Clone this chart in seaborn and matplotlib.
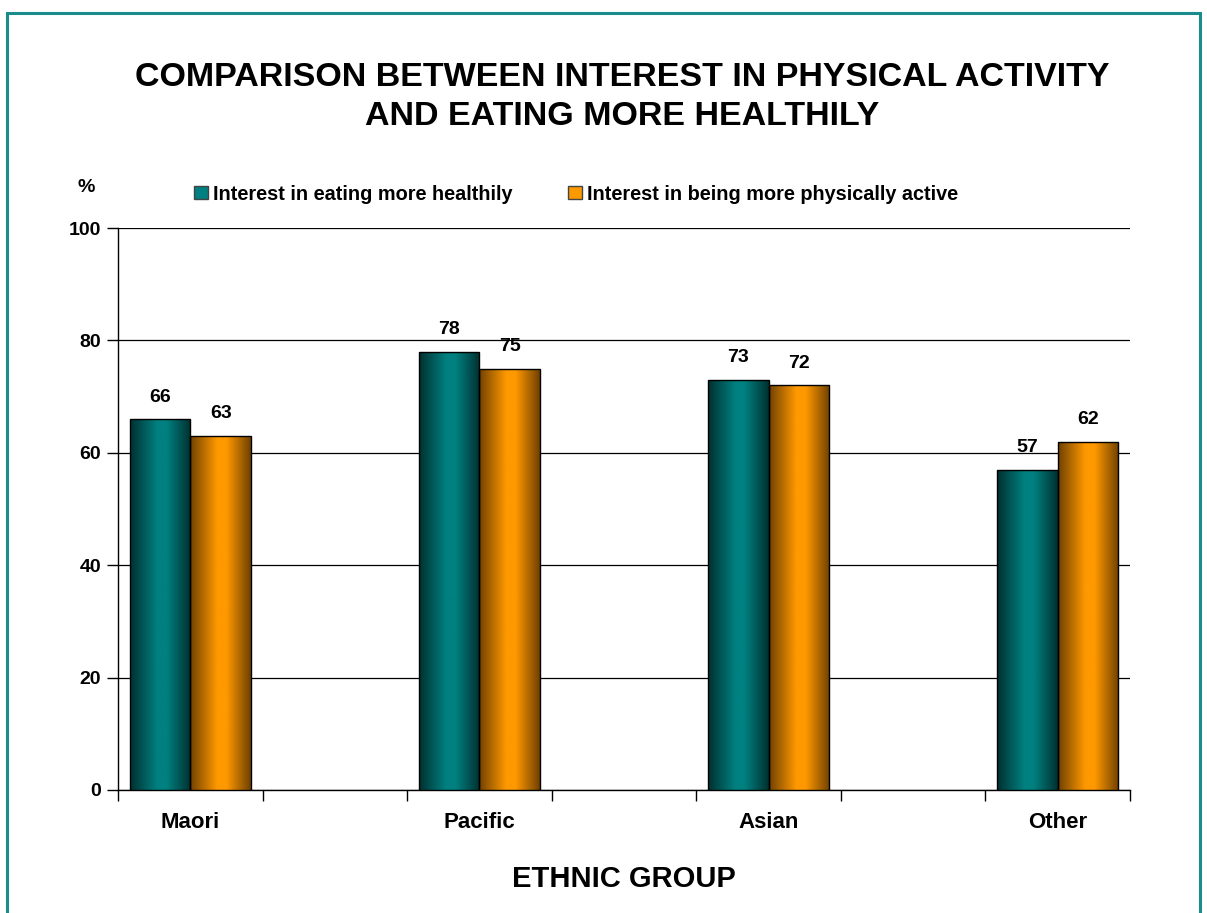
import numpy as np
import pandas as pd
import matplotlib.pyplot as plt
import matplotlib
from matplotlib.colors import LinearSegmentedColormap
from matplotlib.patches import Rectangle, Patch
import seaborn as sns

groups = ['Maori', 'Pacific', 'Asian', 'Other']
series = ['Interest in eating more healthily', 'Interest in being more physically active']
eating = [66, 78, 73, 57]
active = [63, 75, 72, 62]
yticks = [0, 20, 40, 60, 80, 100]

df = pd.DataFrame({
    'group': groups * 2,
    'series': [series[0]] * 4 + [series[1]] * 4,
    'value': eating + active,
})

sns.set_style('white')
plt.rcParams['font.family'] = ['Liberation Sans', 'DejaVu Sans']
plt.rcParams['font.weight'] = 'bold'
plt.rcParams['text.color'] = 'black'
plt.rcParams['xtick.color'] = 'black'
plt.rcParams['ytick.color'] = 'black'
plt.rcParams['axes.labelcolor'] = 'black'

colors = ['#008080', '#FF9900']
darks = ['#003030', '#704000']

fig = plt.figure(figsize=(12.07, 9.13), dpi=100)
ax = fig.add_axes([118 / 1207, 1 - 790 / 913, (1130 - 118) / 1207, (790 - 228) / 913])

sns.barplot(data=df, x='group', y='value', hue='series', palette=colors,
            width=0.42, gap=0, edgecolor='black', linewidth=1.0, ax=ax,
            legend=False, zorder=3)

# gradient fill, dark edges and bright middle like the original
for i, cont in enumerate(ax.containers):
    cmap = LinearSegmentedColormap.from_list(
        'g%d' % i, [(0, darks[i]), (0.45, colors[i]), (0.6, colors[i]), (1, darks[i])])
    grad = np.linspace(0, 1, 256).reshape(1, -1)
    for bar in cont:
        x0, w, h = bar.get_x(), bar.get_width(), bar.get_height()
        im = ax.imshow(grad, cmap=cmap, aspect='auto', extent=[x0, x0 + w, 0, h],
                       zorder=3.5)
        im.set_clip_path(bar)
        bar.set_facecolor('none')
        bar.set_zorder(4)
        ax.text(x0 + w / 2, h + 2.4, '%d' % h, ha='center', va='bottom',
                fontsize=14, fontweight='bold')

ax.set_xlim(-0.25, 3.25)
ax.set_ylim(0, 100)
ax.set_yticks(yticks)
ax.set_yticklabels([str(v) for v in yticks], fontsize=14, fontweight='bold')
ax.set_xticks(range(len(groups)))
ax.set_xticklabels(groups, fontsize=16, fontweight='bold')
ax.set_xticks(np.arange(-0.25, 3.3, 0.5), minor=True)
ax.tick_params(axis='x', which='major', bottom=True, length=0, pad=16)
ax.tick_params(axis='x', which='minor', bottom=True, length=8, width=1, direction='out', color='black')
ax.tick_params(axis='y', left=True, length=8, width=1, direction='out', color='black', pad=4)
ax.yaxis.grid(True, color='black', linewidth=0.9, zorder=0)
ax.set_axisbelow(True)
for s in ['top', 'right']:
    ax.spines[s].set_visible(False)
for s in ['left', 'bottom']:
    ax.spines[s].set_color('black')
    ax.spines[s].set_linewidth(1.0)
ax.set_xlabel('ETHNIC GROUP', fontsize=21, fontweight='bold', labelpad=23)
ax.set_ylabel('')

fig.text(86 / 1207, 1 - 187 / 913, '%', fontsize=14, fontweight='bold', ha='center', va='center')

fig.text(622 / 1207, 1 - 97 / 913,
         'COMPARISON BETWEEN INTEREST IN PHYSICAL ACTIVITY\nAND EATING MORE HEALTHILY',
         fontsize=24.5, fontweight='bold', ha='center', va='center', linespacing=1.36)

handles = [Patch(facecolor=colors[0], edgecolor='#444444'),
           Patch(facecolor=colors[1], edgecolor='#444444')]
fig.legend(handles, series, loc='center', bbox_to_anchor=(576 / 1207, 1 - 194 / 913),
           ncol=2, frameon=False, prop={'size': 14.3, 'weight': 'bold'},
           handlelength=0.7, handleheight=0.7, handletextpad=0.25, columnspacing=2.8,
           borderaxespad=0)

# teal border around the chart area
fig.patches.append(Rectangle((7 / 1207, -0.01), 1193 / 1207, 1 - 13 / 913 + 0.01,
                             transform=fig.transFigure, fill=False,
                             edgecolor='#1a8c8c', linewidth=2.2))

fig.savefig('out.png', dpi=100)
